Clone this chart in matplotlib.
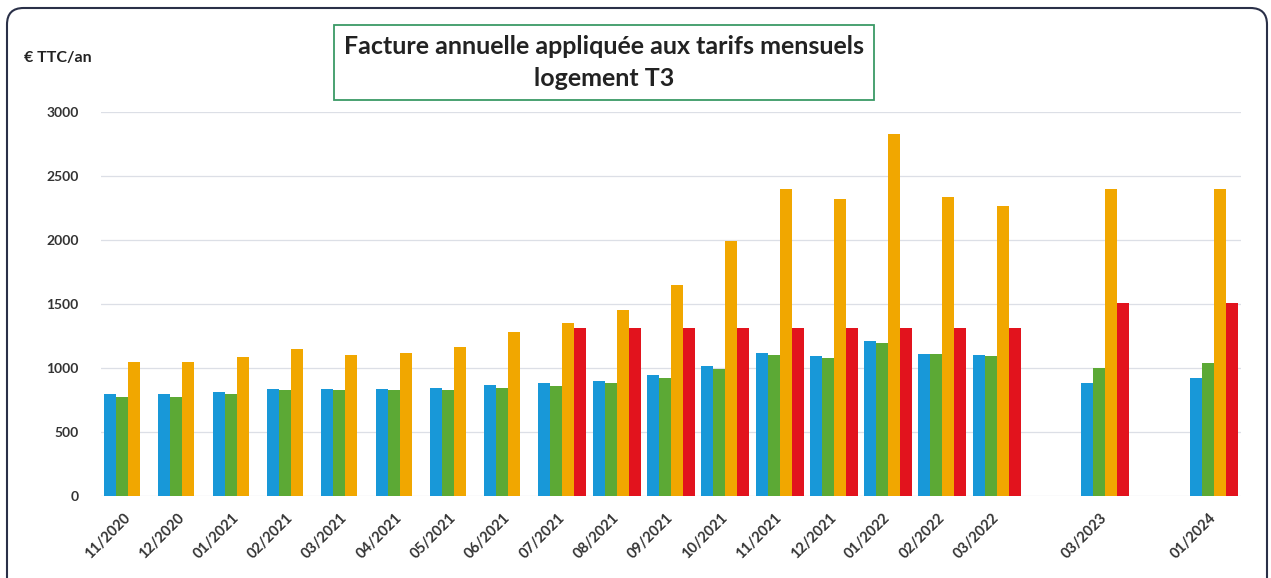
import numpy as np
import matplotlib
matplotlib.use('Agg')
from matplotlib import pyplot as plt
from matplotlib.patches import FancyBboxPatch

nan = np.nan

# categories (blank = empty slot on the axis)
labels = ['11/2020', '12/2020', '01/2021', '02/2021', '03/2021', '04/2021', '05/2021',
          '06/2021', '07/2021', '08/2021', '09/2021', '10/2021', '11/2021', '12/2021',
          '01/2022', '02/2022', '03/2022', '', '03/2023', '', '01/2024']

blue = [795, 795, 812, 838, 838, 838, 843, 870, 880, 901, 943, 1016, 1121, 1095,
        1210, 1106, 1101, nan, 886, nan, 925]
green = [775, 775, 796, 825, 825, 825, 826, 846, 856, 883, 925, 995, 1100, 1079,
         1192, 1106, 1093, nan, 1002, nan, 1041]
orange = [1050, 1050, 1087, 1152, 1105, 1115, 1166, 1278, 1349, 1450, 1650, 1990, 2395, 2320,
          2825, 2335, 2265, nan, 2395, nan, 2400]
red = [nan, nan, nan, nan, nan, nan, nan, nan, 1310, 1310, 1310, 1310, 1310, 1310,
       1310, 1310, 1310, nan, 1510, nan, 1510]

yticks = [0, 500, 1000, 1500, 2000, 2500, 3000]

colors = ['#1898d8', '#5ca935', '#f1a700', '#e2131d']
series = [blue, green, orange, red]

plt.rcParams['font.family'] = ['Lato', 'DejaVu Sans']

W, H = 1271, 578
fig = plt.figure(figsize=(W / 100, H / 100), dpi=100)
fig.patch.set_facecolor('white')

ax = fig.add_axes([101 / W, (H - 496) / H, 1140 / W, 384 / H])
x = np.arange(len(labels))
w = 0.221
for k, (vals, c) in enumerate(zip(series, colors)):
    ax.bar(x + (k - 1.5) * w, vals, width=w, color=c, linewidth=0, zorder=3)

ax.set_xlim(-0.5, len(labels) - 0.5)
ax.set_ylim(0, 3000)
ax.set_yticks(yticks)
ax.set_yticklabels([str(t) for t in yticks], fontsize=10, fontweight='bold', color='#333333')
ax.set_xticks(x)
ax.set_xticklabels(labels, rotation=45, ha='right', va='center', rotation_mode='anchor',
                   fontsize=10.5, fontweight='bold', color='#333333')
ax.tick_params(axis='x', length=0, pad=14)
ax.tick_params(axis='y', length=0, pad=16)
ax.grid(axis='y', color='#dcdfe6', linewidth=0.9, zorder=0)
for s in ax.spines.values():
    s.set_visible(False)
ax.set_facecolor('none')

# unit label
fig.text(24 / W, 1 - 58 / H, '€ TTC/an', fontsize=11.5, fontweight='bold', color='#222222',
         ha='left', va='center')

# title box
fig.patches.append(plt.Rectangle((334 / W, 1 - 100 / H), 540 / W, 75 / H, transform=fig.transFigure,
                                 fill=False, edgecolor='#3a9a66', linewidth=1.3))
fig.text(604 / W, 1 - 46 / H, 'Facture annuelle appliquée aux tarifs mensuels', fontsize=18,
         fontweight='bold', color='#222222', ha='center', va='center')
fig.text(604 / W, 1 - 78 / H, 'logement T3', fontsize=18,
         fontweight='bold', color='#222222', ha='center', va='center')

# outer rounded frame
frame = FancyBboxPatch((7 / W, -0.1), 1260 / W, 0.1 + 1 - 8 / H,
                       boxstyle='round,pad=0,rounding_size=0.013', transform=fig.transFigure,
                       fill=False, edgecolor='#2a3048', linewidth=1.5, mutation_aspect=W / H)
fig.patches.append(frame)

fig.savefig('out.png', dpi=100)
